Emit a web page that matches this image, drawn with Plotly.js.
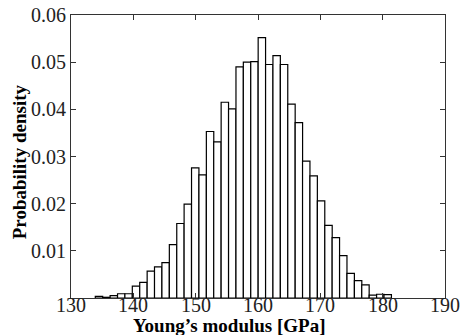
<!DOCTYPE html>
<html>
<head>
<meta charset="utf-8">
<script src="https://cdn.plot.ly/plotly-3.0.1.min.js"></script>
<style>
html,body{margin:0;padding:0;background:#fff;}
#chart{width:460px;height:335px;}
</style>
</head>
<body>
<div id="chart"></div>
<script>
// Histogram bin centers (GPa), bin width ~1.1875
const binCenters = [134.49,135.68,136.87,138.06,139.24,140.43,141.62,142.81,143.99,145.18,
  146.37,147.56,148.74,149.93,151.12,152.31,153.49,154.68,155.87,157.06,
  158.24,159.43,160.62,161.81,162.99,164.18,165.37,166.56,167.74,168.93,
  170.12,171.31,172.49,173.68,174.87,176.06,177.24,178.43,179.62,180.81];
const binWidth = 1.1875;
// Probability density values
const density = [0.00035,0.00015,0.0005,0.0009,0.0009,0.0025,0.0033,0.0057,0.0066,0.0075,
  0.0113,0.0158,0.0199,0.0276,0.0261,0.0353,0.0331,0.0415,0.0401,0.0490,
  0.0500,0.0501,0.0552,0.0495,0.0514,0.0495,0.0411,0.0372,0.0290,0.0259,
  0.0206,0.0154,0.0128,0.0090,0.0052,0.0037,0.0028,0.0006,0.0008,0.0007];
const xTicks = [130,140,150,160,170,180,190];
const xTickText = ['130','140','150','160','170','180','190'];
const yTicks = [0.01,0.02,0.03,0.04,0.05,0.06];
const yTickText = ['0.01','0.02','0.03','0.04','0.05','0.06'];
const xTitle = 'Young\u2019s modulus [GPa]';
const yTitle = 'Probability density';

const trace = {
  type: 'bar',
  x: binCenters,
  y: density,
  width: binCenters.map(() => binWidth),
  marker: {color: '#ffffff', line: {color: '#000000', width: 1.2}},
  hoverinfo: 'x+y'
};

const serif = '"Liberation Serif", "Times New Roman", serif';
const tickFont = {family: serif, size: 20, color: '#222'};
const titleFont = {family: serif, size: 19, color: '#000', weight: 'bold'};

// x tick labels placed through the x axis scale (xref 'x')
const xTickAnnots = xTicks.map((v, i) => ({
  text: xTickText[i], xref: 'x', yref: 'paper', x: v, y: 0,
  xanchor: 'center', yanchor: 'top', yshift: 6,
  showarrow: false, font: tickFont
}));

const layout = {
  width: 460, height: 335,
  font: {family: serif},
  margin: {l: 71, r: 15, t: 15, b: 37, pad: 0},
  paper_bgcolor: '#fff', plot_bgcolor: '#fff',
  showlegend: false,
  bargap: 0,
  xaxis: {
    range: [130, 190],
    tickvals: xTicks,
    ticks: 'inside', ticklen: 5, tickcolor: '#333', tickwidth: 1,
    showline: true, linecolor: '#333', linewidth: 1, mirror: 'ticks',
    showgrid: false, zeroline: false,
    showticklabels: false,
    automargin: false
  },
  yaxis: {
    range: [0, 0.06],
    tickvals: yTicks,
    ticktext: yTickText,
    ticks: 'inside', ticklen: 5, tickcolor: '#333', tickwidth: 1,
    showline: true, linecolor: '#333', linewidth: 1, mirror: 'ticks',
    showgrid: false, zeroline: false,
    tickfont: tickFont,
    automargin: false
  },
  annotations: xTickAnnots.concat([{
    text: '<b>' + xTitle + '</b>',
    xref: 'paper', yref: 'paper',
    x: 0.425, y: 0,
    xanchor: 'center', yanchor: 'top',
    yshift: -15,
    showarrow: false,
    font: titleFont
  }, {
    text: '<b>' + yTitle + '</b>',
    xref: 'paper', yref: 'paper',
    x: -0.139, y: 0.4795,
    xanchor: 'center', yanchor: 'middle',
    textangle: -90,
    showarrow: false,
    font: titleFont
  }])
};

Plotly.newPlot('chart', [trace], layout, {displayModeBar: false, staticPlot: true});
</script>
</body>
</html>
